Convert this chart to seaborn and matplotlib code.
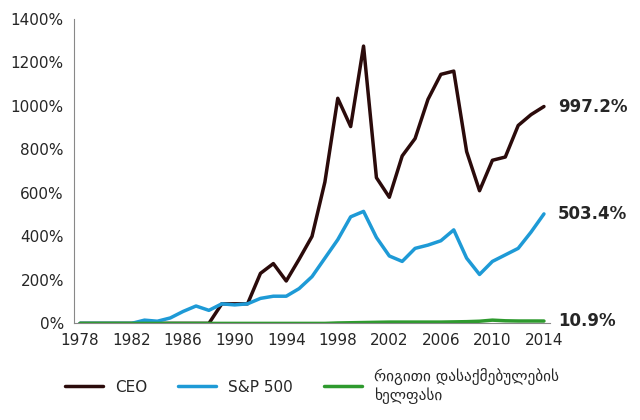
import matplotlib
matplotlib.use("Agg")
import matplotlib.pyplot as plt
import seaborn as sns
import pandas as pd

years = list(range(1978, 2015))
ceo = [0, 0, 0, 0, 0, 0, 0, 0, 0, 0, 0, 90, 90, 90, 230, 275, 195, 295, 400, 650,
       1035, 905, 1275, 670, 580, 770, 850, 1030, 1145, 1160, 790, 610, 750, 765,
       910, 960, 997.2]
sp500 = [0, 0, 0, 0, 0, 15, 10, 25, 55, 80, 60, 90, 85, 90, 115, 125, 125, 160, 215,
         300, 385, 490, 515, 395, 310, 285, 345, 360, 380, 430, 300, 225, 285, 315,
         345, 420, 503.4]
workers = [0, 0, 0, 0, 0, 0, 0, 0, 0, 0, 0, 0, 0, 0, 0, 0, 0, 0, 0, 0,
           2, 3, 4, 5, 6, 6, 6, 6, 6, 7, 8, 10, 15, 12, 11, 11, 10.9]
names = ["CEO", "S&P 500", "რიგითი დასაქმებულების\nხელფასი"]
colors = ["#2b0b0b", "#1e9ad6", "#2e9a2e"]

df = pd.DataFrame({"year": years, names[0]: ceo, names[1]: sp500, names[2]: workers})
long = df.melt(id_vars="year", var_name="series", value_name="value")

sns.set_style("white")
plt.rcParams['font.family'] = ['DejaVu Sans', 'Noto Sans']
fig, ax = plt.subplots(figsize=(6.4, 4.2), dpi=100)
sns.lineplot(data=long, x="year", y="value", hue="series", palette=colors,
             linewidth=2.5, ax=ax)

ax.set_xlim(1977.5, 2014.5)
ax.set_ylim(0, 1400)
ax.set_xticks(range(1978, 2015, 4))
ax.set_yticks(range(0, 1401, 200))
ax.set_yticklabels([f"{v}%" for v in range(0, 1401, 200)])
ax.tick_params(labelsize=11)
ax.set_xlabel("")
ax.set_ylabel("")
for s in ["top", "right"]:
    ax.spines[s].set_visible(False)
for s in ["left", "bottom"]:
    ax.spines[s].set_color("#888888")

for vals, txt in [(ceo, "997.2%"), (sp500, "503.4%"), (workers, "10.9%")]:
    ax.annotate(txt, (years[-1], vals[-1]), xytext=(10, 0), textcoords="offset points",
                fontsize=12, fontweight="bold", va="center", annotation_clip=False)

ax.legend(loc="upper center", bbox_to_anchor=(0.5, -0.1), ncol=3, frameon=False,
          fontsize=11, handlelength=2.5)
plt.subplots_adjust(left=0.115, right=0.86, top=0.955, bottom=0.23)
fig.savefig("out.png")
